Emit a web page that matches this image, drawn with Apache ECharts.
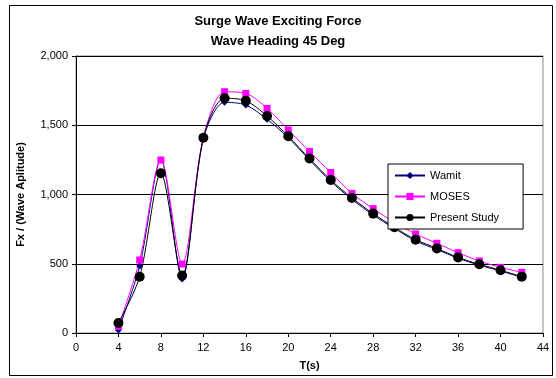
<!DOCTYPE html>
<html>
<head>
<meta charset="utf-8">
<script src="https://cdn.jsdelivr.net/npm/echarts@6/dist/echarts.min.js"></script>
<style>
  html, body { margin: 0; padding: 0; background: #fff; }
  #main { width: 556px; height: 378px; }
</style>
</head>
<body>
<div id="main"></div>
<script>
// wave period T(s)
var periods = [4, 6, 8, 10, 12, 14, 16, 18, 20, 22, 24, 26, 28, 30, 32, 34, 36, 38, 40, 42];
// Fx / wave amplitude
var wamit = [22, 484, 1250, 390, 1400, 1666, 1646, 1543, 1410, 1250, 1095, 965, 852, 755, 665, 603, 540, 490, 448, 403];
var moses = [48, 527, 1249, 498, 1410, 1742, 1730, 1622, 1467, 1310, 1159, 1008, 898, 799, 715, 648, 580, 520, 474, 438];
var present = [72, 406, 1153, 415, 1410, 1695, 1677, 1567, 1420, 1260, 1105, 975, 862, 763, 674, 611, 546, 496, 453, 407];

var pairs = function(ys) {
    return periods.map(function(x, i) { return [x, ys[i]]; });
};

var font = 'Liberation Sans, Arial, sans-serif';
var myChart = echarts.init(document.getElementById('main'));

myChart.setOption({
    backgroundColor: '#fff',
    animation: false,
    title: {
        text: 'Surge Wave Exciting Force\nWave Heading 45 Deg',
        left: 'center',
        top: 6,
        textStyle: { fontFamily: font, fontSize: 13, fontWeight: 'bold', color: '#000', lineHeight: 20 }
    },
    graphic: [{
        type: 'rect',
        shape: { x: 9.5, y: 5.5, width: 543, height: 370 },
        style: { fill: 'none', stroke: '#000', lineWidth: 1 },
        silent: true
    }],
    legend: {
        orient: 'vertical',
        left: 388,
        top: 164,
        itemWidth: 30,
        itemHeight: 9,
        itemGap: 10,
        padding: [6, 24, 6, 6],
        borderColor: '#000',
        borderWidth: 1,
        backgroundColor: '#fff',
        textStyle: { fontFamily: font, fontSize: 11, color: '#000' },
        data: ['Wamit', 'MOSES', 'Present Study']
    },
    grid: { left: 76, right: 13, top: 56, bottom: 45, show: true, borderColor: '#888', borderWidth: 1 },
    xAxis: {
        type: 'value',
        min: 0, max: 44, interval: 4,
        name: 'T(s)',
        nameLocation: 'middle',
        nameGap: 27,
        nameTextStyle: { fontFamily: font, fontSize: 11, fontWeight: 'bold', color: '#000' },
        axisLine: { lineStyle: { color: '#000' } },
        axisTick: { show: true, length: 4, lineStyle: { color: '#000' } },
        axisLabel: { fontFamily: font, fontSize: 11, color: '#000', margin: 9 },
        splitLine: { show: false }
    },
    yAxis: {
        type: 'value',
        min: 0, max: 2000, interval: 500,
        name: 'Fx / (Wave Aplitude)',
        nameLocation: 'middle',
        nameGap: 50,
        nameTextStyle: { fontFamily: font, fontSize: 11, fontWeight: 'bold', color: '#000' },
        axisLine: { show: true, lineStyle: { color: '#000' } },
        axisTick: { show: true, length: 4, lineStyle: { color: '#000' } },
        axisLabel: {
            fontFamily: font, fontSize: 11, color: '#000', margin: 8,
            formatter: function(v) { return v.toLocaleString('en-US'); }
        },
        splitLine: { show: true, lineStyle: { color: '#000', width: 1 } }
    },
    series: [{
        name: 'Wamit',
        type: 'line',
        smooth: 0.3,
        symbol: 'diamond',
        symbolSize: 7,
        itemStyle: { color: '#000080' },
        lineStyle: { color: '#000080', width: 1 },
        data: pairs(wamit)
    }, {
        name: 'MOSES',
        type: 'line',
        smooth: 0.3,
        symbol: 'rect',
        symbolSize: 7,
        itemStyle: { color: '#ff00ff' },
        lineStyle: { color: '#ff00ff', width: 1 },
        data: pairs(moses)
    }, {
        name: 'Present Study',
        type: 'line',
        smooth: 0.3,
        symbol: 'circle',
        symbolSize: 10,
        itemStyle: { color: '#000' },
        lineStyle: { color: '#000', width: 1 },
        data: pairs(present)
    }]
});
</script>
</body>
</html>
